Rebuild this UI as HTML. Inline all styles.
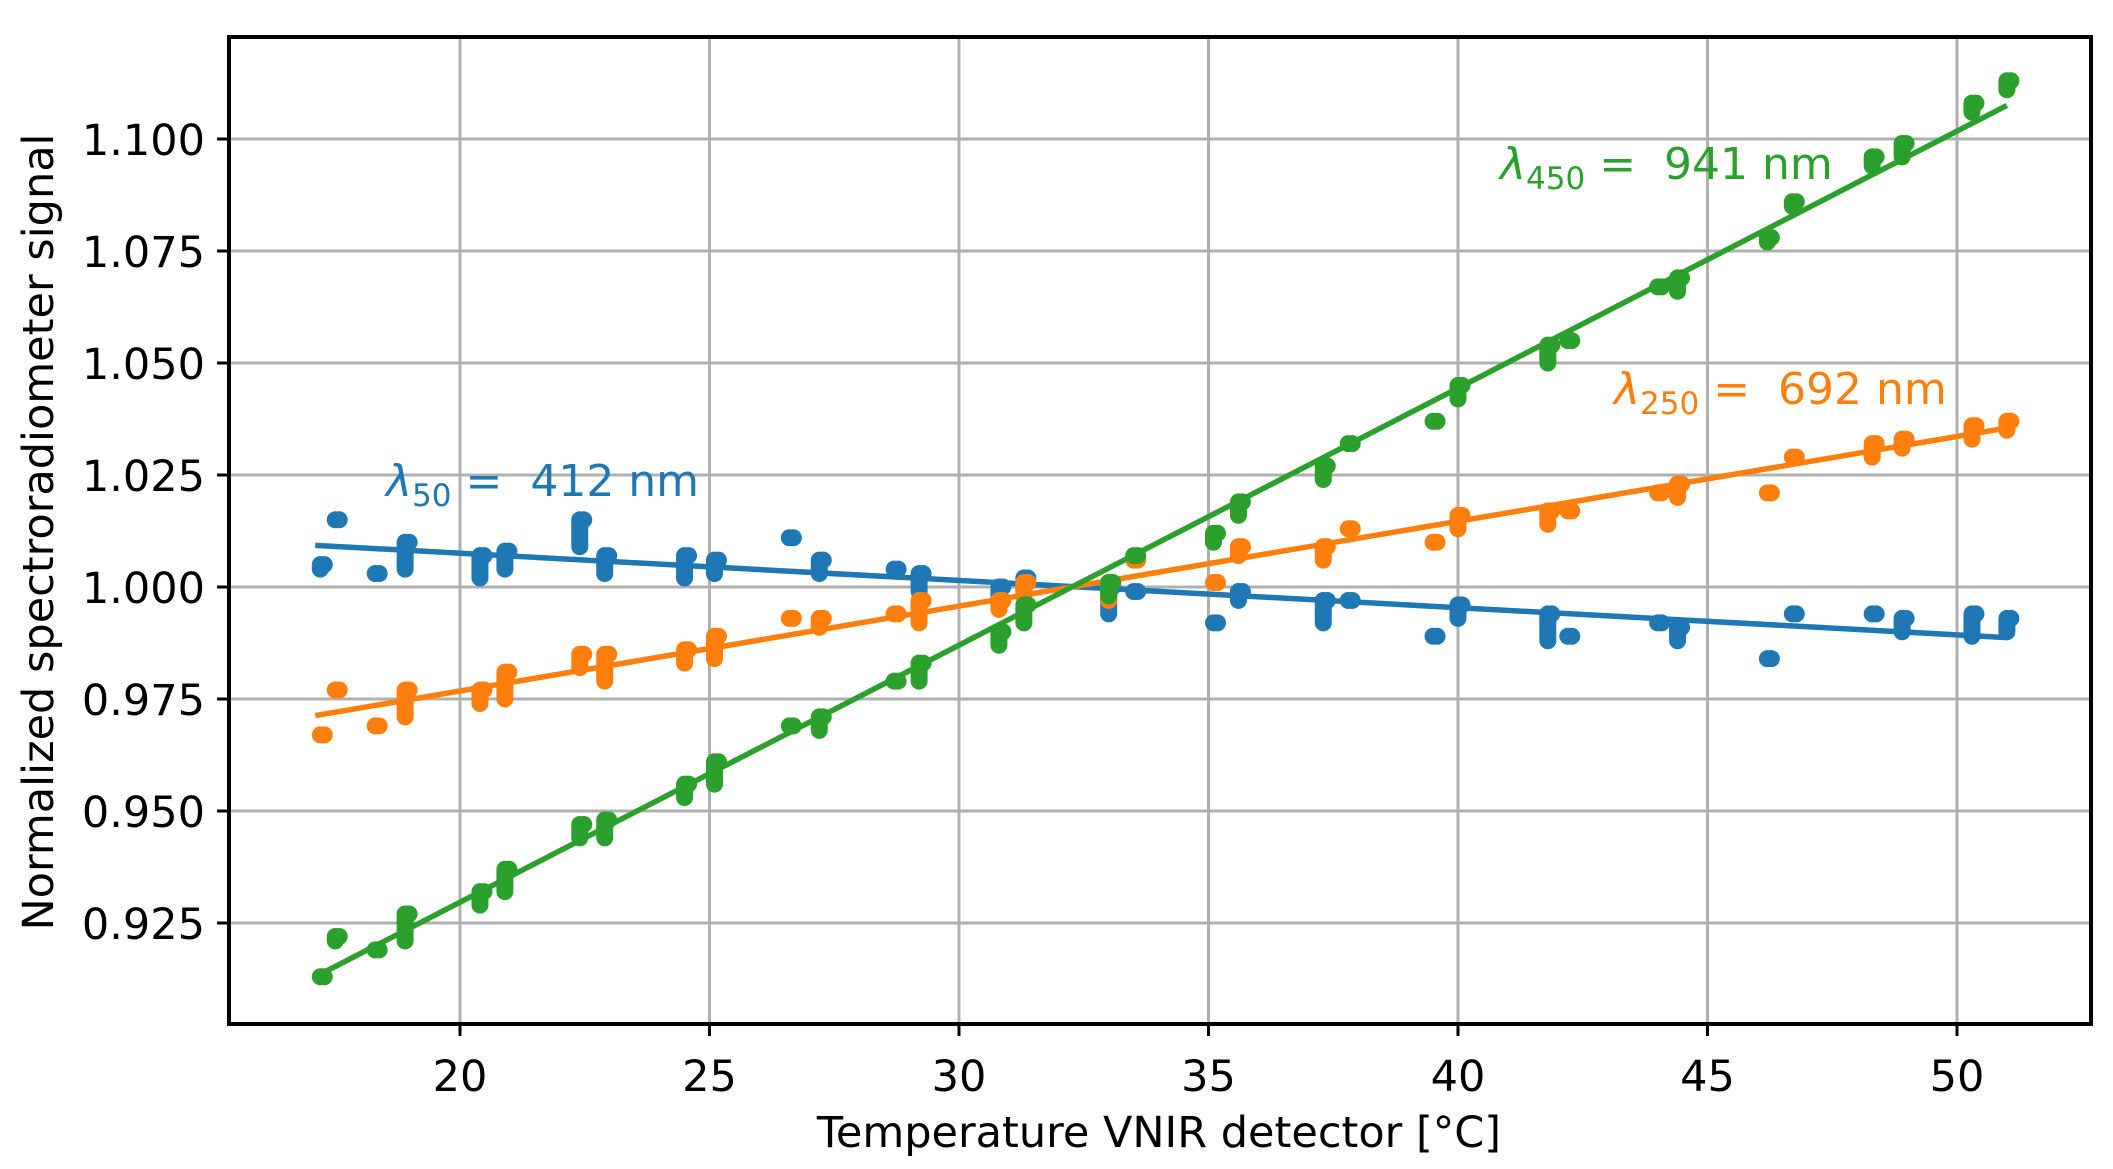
<!DOCTYPE html>
<html><head><meta charset="utf-8"><style>
html,body{margin:0;padding:0;background:#fff;}
svg text{font-family:"DejaVu Sans","Liberation Sans",sans-serif;}
</style></head><body>
<svg id="s" width="2113" height="1164" xmlns="http://www.w3.org/2000/svg">
<rect width="2113" height="1164" fill="#fff"/>
<g id="grid" stroke="#b0b0b0" stroke-width="3"></g>
<g id="data"></g>
<rect x="229" y="37" width="1862" height="987" fill="none" stroke="#000" stroke-width="4"/>
<g id="ticks" stroke="#000" stroke-width="3"></g>
<g id="labels" font-size="43" fill="#000"></g>
<text x="1159" y="1147" font-size="43" text-anchor="middle">Temperature VNIR detector [°C]</text>
<text transform="translate(53,532) rotate(-90)" font-size="43" text-anchor="middle">Normalized spectroradiometer signal</text>
<text x="386" y="496" font-size="44" fill="#1f77b4" xml:space="preserve"><tspan font-style="italic">λ</tspan><tspan font-size="31" dy="10">50</tspan><tspan dy="-10"> =  412 nm</tspan></text>
<text x="1500" y="179" font-size="44" fill="#2ca02c" xml:space="preserve"><tspan font-style="italic">λ</tspan><tspan font-size="31" dy="10">450</tspan><tspan dy="-10"> =  941 nm</tspan></text>
<text x="1614" y="404" font-size="44" fill="#ff7f0e" xml:space="preserve"><tspan font-style="italic">λ</tspan><tspan font-size="31" dy="10">250</tspan><tspan dy="-10"> =  692 nm</tspan></text>
</svg>
<script>
var NS="http://www.w3.org/2000/svg";
function X(t){return 460+(t-20)*49.9;}
function Y(v){return 139+(1.1-v)*4480;}
function el(p,tag,a){var e=document.createElementNS(NS,tag);for(var k in a)e.setAttribute(k,a[k]);p.appendChild(e);return e;}
var g=document.getElementById('grid'),tk=document.getElementById('ticks'),lb=document.getElementById('labels');
for(var t=20;t<=50;t+=5){var x=X(t);el(g,'line',{x1:x,x2:x,y1:37,y2:1024});el(tk,'line',{x1:x,x2:x,y1:1024,y2:1036});var tx=el(lb,'text',{x:x,y:1091,'text-anchor':'middle'});tx.textContent=t;}
var yv=[0.925,0.95,0.975,1.0,1.025,1.05,1.075,1.1];
yv.forEach(function(v){var y=Y(v);el(g,'line',{x1:229,x2:2091,y1:y,y2:y});el(tk,'line',{x1:217,x2:229,y1:y,y2:y});var tx=el(lb,'text',{x:205,y:y+16,'text-anchor':'end'});tx.textContent=v.toFixed(3);});
var T=[17.2,17.5,18.3,18.9,20.4,20.9,22.4,22.9,24.5,25.1,26.6,27.2,28.7,29.2,30.8,31.3,33.0,33.5,35.1,35.6,37.3,37.8,39.5,40.0,41.8,42.2,44.0,44.4,46.2,46.7,48.3,48.9,50.3,51.0];
var B=[[1.005,1.004],[1.015,1.015],[1.003,1.003],[1.010,1.004],[1.007,1.002],[1.008,1.004],[1.015,1.009],[1.007,1.003],[1.007,1.002],[1.006,1.003],[1.011,1.011],[1.006,1.003],[1.004,1.004],[1.003,0.999],[1.000,0.997],[1.002,0.999],[1.000,0.994],[0.999,0.999],[0.992,0.992],[0.999,0.997],[0.997,0.992],[0.997,0.997],[0.989,0.989],[0.996,0.993],[0.994,0.988],[0.989,0.989],[0.992,0.992],[0.991,0.988],[0.984,0.984],[0.994,0.994],[0.994,0.994],[0.993,0.990],[0.994,0.989],[0.993,0.990]];
var O=[[0.967,0.967],[0.977,0.977],[0.969,0.969],[0.977,0.971],[0.977,0.974],[0.981,0.975],[0.985,0.982],[0.985,0.979],[0.986,0.983],[0.989,0.984],[0.993,0.993],[0.993,0.991],[0.994,0.994],[0.997,0.992],[0.997,0.995],[1.001,0.998],[1.001,0.997],[1.006,1.006],[1.001,1.001],[1.009,1.007],[1.009,1.006],[1.013,1.013],[1.010,1.010],[1.016,1.013],[1.017,1.014],[1.017,1.017],[1.021,1.021],[1.023,1.020],[1.021,1.021],[1.029,1.029],[1.032,1.029],[1.033,1.031],[1.036,1.033],[1.037,1.035]];
var G=[[0.913,0.913],[0.922,0.921],[0.919,0.919],[0.927,0.921],[0.932,0.929],[0.937,0.932],[0.947,0.944],[0.948,0.944],[0.956,0.953],[0.961,0.956],[0.969,0.969],[0.971,0.968],[0.979,0.979],[0.983,0.979],[0.990,0.987],[0.996,0.992],[1.001,0.998],[1.007,1.007],[1.012,1.010],[1.019,1.016],[1.027,1.024],[1.032,1.032],[1.037,1.037],[1.045,1.042],[1.054,1.050],[1.055,1.055],[1.067,1.067],[1.069,1.066],[1.078,1.077],[1.086,1.085],[1.096,1.094],[1.099,1.096],[1.108,1.106],[1.113,1.111]];
var d=document.getElementById('data');
function series(P,c,a,b){
 P.forEach(function(p,i){var x=X(T[i]);
  el(d,'line',{x1:x,x2:x,y1:Y(p[0]),y2:Y(p[1])+0.01,stroke:c,'stroke-width':17,'stroke-linecap':'round'});
  el(d,'circle',{cx:x+4,cy:Y(p[0]),r:8.5,fill:c});});
 el(d,'line',{x1:X(17.1),x2:X(51),y1:Y(a),y2:Y(b),stroke:c,'stroke-width':5.5});
}
series(B,'#1f77b4',1.0093,0.9887);
series(O,'#ff7f0e',0.9713,1.0355);
series(G,'#2ca02c',0.913,1.1075);
</script>
</body></html>
